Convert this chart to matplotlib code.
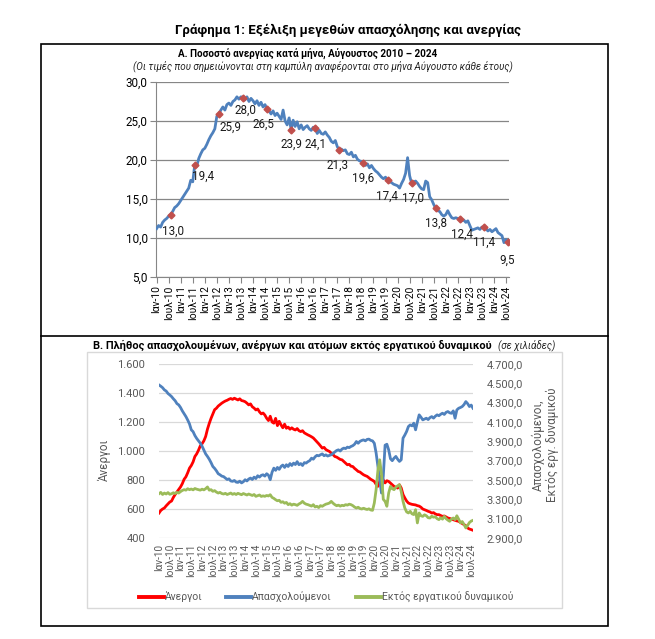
import numpy as np
import matplotlib
matplotlib.use("Agg")
import matplotlib.pyplot as plt
from matplotlib.patches import Rectangle
from matplotlib.lines import Line2D

plt.rcParams['font.family'] = ['Roboto', 'DejaVu Sans']

# Γράφημα Α: ποσοστό ανεργίας ανά μήνα (Ιαν 2010 - Αυγ 2024)
rate_2010 = [11.2, 11.6, 11.4, 12.0, 12.3, 12.5, 12.8, 13.0, 13.4, 13.9, 14.1, 14.4]
rate_2011 = [14.8, 15.2, 15.6, 16.0, 16.4, 17.4, 17.2, 19.4, 19.2, 20.2, 20.8, 21.3]
rate_2012 = [21.5, 22.0, 22.6, 23.1, 23.5, 24.0, 25.6, 25.9, 26.4, 26.8, 26.4, 27.1]
rate_2013 = [27.3, 27.0, 27.5, 27.7, 28.1, 27.8, 28.1, 28.0, 27.7, 28.1, 27.5, 27.9]
rate_2014 = [27.6, 27.2, 27.6, 27.0, 27.4, 26.8, 27.1, 26.5, 26.3, 25.9, 26.3, 25.7]
rate_2015 = [26.0, 25.6, 25.2, 26.4, 25.0, 24.5, 25.4, 23.9, 25.1, 24.3, 24.9, 24.0]
rate_2016 = [24.5, 23.9, 24.2, 24.4, 24.0, 23.8, 24.2, 24.1, 23.4, 23.8, 23.4, 23.3]
rate_2017 = [23.6, 23.2, 22.9, 22.4, 22.2, 22.5, 21.7, 21.3, 21.4, 21.2, 21.3, 20.8]
rate_2018 = [20.7, 21.0, 20.4, 20.6, 20.1, 19.9, 19.8, 19.6, 19.3, 19.5, 19.0, 19.3]
rate_2019 = [18.9, 18.6, 18.4, 18.1, 17.8, 17.6, 17.8, 17.4, 17.2, 17.1, 16.9, 16.8]
rate_2020 = [16.7, 16.4, 17.0, 17.5, 18.3, 20.3, 18.0, 17.0, 17.2, 17.3, 17.0, 16.6]
rate_2021 = [16.3, 16.2, 17.3, 17.1, 15.3, 14.9, 14.3, 13.8, 13.5, 13.4, 13.0, 12.8]
rate_2022 = [13.0, 13.5, 13.0, 12.6, 12.5, 12.6, 12.5, 12.4, 12.2, 12.3, 12.0, 12.2]
rate_2023 = [11.6, 11.0, 11.1, 11.2, 11.3, 11.1, 11.4, 11.4, 11.2, 10.9, 11.1, 10.8]
rate_2024 = [11.0, 11.2, 10.7, 10.5, 10.3, 9.4, 9.8, 9.5]

# Γράφημα Β: χιλιάδες άτομα
unemp_2010 = [572, 590, 600, 607, 622, 635, 648, 655, 680, 700, 718, 735]
unemp_2011 = [752, 775, 805, 822, 850, 882, 900, 925, 962, 980, 1005, 1035]
unemp_2012 = [1050, 1070, 1100, 1150, 1190, 1225, 1255, 1285, 1295, 1310, 1320, 1330]
unemp_2013 = [1338, 1345, 1350, 1357, 1362, 1356, 1364, 1358, 1352, 1360, 1348, 1345]
unemp_2014 = [1340, 1330, 1318, 1325, 1305, 1296, 1283, 1290, 1270, 1256, 1262, 1248]
unemp_2015 = [1226, 1210, 1240, 1200, 1192, 1225, 1175, 1205, 1180, 1160, 1185, 1157]
unemp_2016 = [1165, 1150, 1160, 1150, 1145, 1155, 1140, 1134, 1140, 1125, 1118, 1111]
unemp_2017 = [1105, 1098, 1090, 1077, 1065, 1050, 1035, 1020, 1025, 1010, 1003, 997]
unemp_2018 = [985, 975, 962, 958, 950, 942, 939, 928, 918, 905, 908, 895]
unemp_2019 = [893, 880, 870, 859, 855, 845, 836, 830, 825, 815, 805, 798]
unemp_2020 = [790, 770, 756, 790, 830, 800, 780, 795, 790, 779, 768, 756]
unemp_2021 = [750, 744, 767, 745, 700, 676, 655, 641, 636, 632, 630, 628]
unemp_2022 = [623, 620, 612, 600, 595, 590, 584, 580, 572, 575, 566, 561]
unemp_2023 = [561, 555, 549, 552, 545, 538, 535, 530, 526, 522, 518, 515]
unemp_2024 = [508, 500, 492, 485, 469, 462, 458, 453]

emp_2010 = [4483, 4470, 4455, 4432, 4420, 4395, 4380, 4363, 4340, 4320, 4290, 4277]
emp_2011 = [4250, 4215, 4185, 4156, 4120, 4080, 4019, 4000, 3960, 3930, 3905, 3881]
emp_2012 = [3850, 3810, 3770, 3744, 3715, 3680, 3640, 3620, 3595, 3565, 3554, 3540]
emp_2013 = [3535, 3520, 3505, 3512, 3490, 3486, 3495, 3478, 3475, 3488, 3470, 3482]
emp_2014 = [3503, 3490, 3510, 3520, 3505, 3530, 3515, 3544, 3530, 3548, 3554, 3540]
emp_2015 = [3565, 3550, 3503, 3580, 3623, 3600, 3630, 3610, 3640, 3655, 3630, 3658]
emp_2016 = [3640, 3670, 3650, 3675, 3660, 3690, 3658, 3670, 3650, 3680, 3675, 3690]
emp_2017 = [3700, 3726, 3715, 3740, 3755, 3750, 3761, 3770, 3751, 3760, 3748, 3755]
emp_2018 = [3761, 3775, 3790, 3805, 3812, 3800, 3820, 3830, 3825, 3840, 3835, 3847]
emp_2019 = [3855, 3870, 3898, 3880, 3900, 3909, 3915, 3905, 3920, 3923, 3910, 3905]
emp_2020 = [3880, 3780, 3640, 3500, 3365, 3540, 3860, 3870, 3812, 3720, 3700, 3726]
emp_2021 = [3744, 3715, 3692, 3709, 3933, 3965, 4002, 4053, 4070, 4060, 4088, 4019]
emp_2022 = [4100, 4174, 4150, 4122, 4130, 4139, 4125, 4145, 4156, 4140, 4160, 4174]
emp_2023 = [4165, 4180, 4191, 4178, 4200, 4208, 4195, 4190, 4215, 4139, 4225, 4242]
emp_2024 = [4250, 4260, 4280, 4311, 4290, 4260, 4275, 4242]

inact_2010 = [3358, 3372, 3350, 3365, 3355, 3370, 3352, 3358, 3368, 3360, 3372, 3365]
inact_2011 = [3380, 3392, 3400, 3395, 3410, 3400, 3407, 3398, 3412, 3405, 3400, 3395]
inact_2012 = [3405, 3398, 3410, 3428, 3395, 3400, 3383, 3390, 3375, 3365, 3372, 3360]
inact_2013 = [3355, 3362, 3350, 3358, 3365, 3352, 3360, 3350, 3362, 3355, 3348, 3360]
inact_2014 = [3352, 3345, 3355, 3348, 3340, 3350, 3331, 3338, 3345, 3330, 3336, 3331]
inact_2015 = [3340, 3335, 3348, 3320, 3310, 3296, 3285, 3290, 3269, 3275, 3260, 3268]
inact_2016 = [3245, 3255, 3240, 3250, 3245, 3238, 3252, 3262, 3279, 3260, 3250, 3245]
inact_2017 = [3238, 3230, 3245, 3221, 3228, 3215, 3235, 3228, 3240, 3250, 3255, 3262]
inact_2018 = [3279, 3260, 3245, 3234, 3240, 3230, 3238, 3234, 3245, 3240, 3250, 3245]
inact_2019 = [3235, 3220, 3210, 3218, 3205, 3200, 3208, 3200, 3195, 3202, 3190, 3186]
inact_2020 = [3262, 3400, 3600, 3709, 3560, 3300, 3279, 3228, 3365, 3434, 3410, 3400]
inact_2021 = [3425, 3440, 3451, 3380, 3280, 3210, 3170, 3159, 3176, 3150, 3142, 3193]
inact_2022 = [3056, 3159, 3130, 3124, 3140, 3130, 3110, 3107, 3125, 3115, 3120, 3100]
inact_2023 = [3090, 3110, 3095, 3124, 3100, 3085, 3073, 3095, 3107, 3090, 3130, 3095]
inact_2024 = [3056, 3070, 3040, 3004, 3030, 3060, 3075, 3083]

rate = np.array(rate_2010 + rate_2011 + rate_2012 + rate_2013 + rate_2014 + rate_2015 + rate_2016 +
                rate_2017 + rate_2018 + rate_2019 + rate_2020 + rate_2021 + rate_2022 + rate_2023 + rate_2024)
unemp = np.array(unemp_2010 + unemp_2011 + unemp_2012 + unemp_2013 + unemp_2014 + unemp_2015 + unemp_2016 +
                 unemp_2017 + unemp_2018 + unemp_2019 + unemp_2020 + unemp_2021 + unemp_2022 + unemp_2023 + unemp_2024)
emp = np.array(emp_2010 + emp_2011 + emp_2012 + emp_2013 + emp_2014 + emp_2015 + emp_2016 +
               emp_2017 + emp_2018 + emp_2019 + emp_2020 + emp_2021 + emp_2022 + emp_2023 + emp_2024)
inact = np.array(inact_2010 + inact_2011 + inact_2012 + inact_2013 + inact_2014 + inact_2015 + inact_2016 +
                 inact_2017 + inact_2018 + inact_2019 + inact_2020 + inact_2021 + inact_2022 + inact_2023 + inact_2024)
months = np.arange(len(rate))

# ετικέτες άξονα x: Ιαν / Ιουλ κάθε έτους
tick_pos = list(range(0, len(rate), 6))
tick_labels = [("Ιαν" if p % 12 == 0 else "Ιουλ") + "-" + str(10 + p // 12) for p in tick_pos]

# μήνες Αυγούστου (σημειωμένοι στην καμπύλη)
aug_idx = [7 + 12 * k for k in range(15)]
# μετατόπιση ετικετών σε pixel (dx, dy)
label_off = [(2, -17), (8, -12), (12, -13), (2, -13), (-4, -15), (0, -15), (0, -16), (-2, -15),
             (0, -15), (-1, -16), (1, -15), (0, -15), (2, -15), (0, -15), (-1, -18)]

W, H = 655, 639
fig = plt.figure(figsize=(W / 100, H / 100), dpi=100)


def fx(px):
    return px / W


def fy(py):
    return 1 - py / H


def comma1(v):
    return f"{v:.1f}".replace('.', ',')


def greek_thousands(v, dec=0):
    s = f"{v:,.{dec}f}"
    return s.replace(',', 'X').replace('.', ',').replace('X', '.')


# πλαίσια
fig.add_artist(Rectangle((fx(41), fy(626)), (608 - 41) / W, (626 - 44) / H, fill=False,
                         ec='black', lw=1.2, transform=fig.transFigure))
fig.add_artist(Line2D([fx(41), fx(608)], [fy(336), fy(336)], color='black', lw=1.2,
                      transform=fig.transFigure))
fig.add_artist(Rectangle((fx(87), fy(608)), (562 - 87) / W, (608 - 352) / H, fill=False,
                         ec='#D9D9D9', lw=1, transform=fig.transFigure))

fig.text(fx(348), fy(30), "Γράφημα 1: Εξέλιξη μεγεθών απασχόλησης και ανεργίας",
         ha='center', va='center', fontsize=9.5, fontweight='bold')
fig.text(fx(308), fy(53), "Α. Ποσοστό ανεργίας κατά μήνα, Αύγουστος 2010 – 2024",
         ha='center', va='center', fontsize=7.1, fontweight='bold')
fig.text(fx(323), fy(66), "(Οι τιμές που σημειώνονται στη καμπύλη αναφέρονται στο μήνα Αύγουστο κάθε έτους)",
         ha='center', va='center', fontsize=7.1, style='italic', color='#262626')

# ---- Γράφημα Α ----
ax1 = fig.add_axes([fx(156), fy(277), (509 - 156) / W, (277 - 82) / H])
ax1.plot(months, rate, color='#4F81BD', lw=2, zorder=3)
ax1.plot(aug_idx, rate[aug_idx], 'D', color='#C0504D', ms=3.5, zorder=4)
for (dx, dy), i in zip(label_off, aug_idx):
    ax1.annotate(comma1(rate[i]), (i, rate[i]), xytext=(dx * 0.72, dy * 0.72),
                 textcoords='offset points', ha='center', va='center', fontsize=8.4, color='#1a1a1a')
ax1.set_xlim(-0.3, 175.5)
ax1.set_ylim(5, 30)
ax1.set_yticks(np.arange(5, 31, 5))
ax1.set_yticklabels([comma1(v) for v in np.arange(5, 31, 5)], fontsize=8.4)
ax1.set_xticks(tick_pos)
ax1.set_xticklabels(tick_labels, rotation=90, fontsize=7.4)
ax1.grid(axis='y', color='#868686', lw=0.9)
ax1.set_axisbelow(True)
for s in ['top', 'right']:
    ax1.spines[s].set_visible(False)
for s in ['left', 'bottom']:
    ax1.spines[s].set_color('#868686')
ax1.tick_params(axis='both', color='#868686', length=4, pad=2)

# ---- Γράφημα Β ----
t1 = fig.text(fx(93), fy(345), "Β. Πλήθος απασχολουμένων, ανέργων και ατόμων εκτός εργατικού δυναμικού",
              ha='left', va='center', fontsize=7.9, fontweight='bold')
fig.canvas.draw()
bb = t1.get_window_extent()
fig.text(bb.x1 / W + fx(6), fy(345), "(σε χιλιάδες)", ha='left', va='center', fontsize=7.1,
         style='italic', color='#262626')

ax2 = fig.add_axes([fx(159), fy(538), (473 - 159) / W, (538 - 364) / H])
ax3 = ax2.twinx()
l1, = ax2.plot(months, unemp, color='#FF0000', lw=2)
l2, = ax3.plot(months, emp, color='#4F81BD', lw=2)
l3, = ax3.plot(months, inact, color='#9BBB59', lw=2)
ax2.set_xlim(0, 175)
ax2.set_ylim(400, 1600)
ax3.set_ylim(2900, 4700)
ax2.set_yticks(np.arange(400, 1601, 200))
ax2.set_yticklabels([greek_thousands(v) for v in np.arange(400, 1601, 200)], fontsize=8, color='#595959')
ax3.set_yticks(np.arange(2900, 4701, 200))
ax3.set_yticklabels([greek_thousands(v, 1) for v in np.arange(2900, 4701, 200)], fontsize=8, color='#595959')
ax2.set_xticks(tick_pos)
ax2.set_xticklabels(tick_labels, rotation=90, fontsize=7.2, color='#595959')
ax2.grid(axis='y', color='#D9D9D9', lw=0.9)
ax2.set_axisbelow(True)
for a in (ax2, ax3):
    for s in a.spines.values():
        s.set_visible(False)
    a.tick_params(length=0)
ax2.tick_params(axis='y', pad=10)
ax3.tick_params(axis='y', pad=10)
ax2.tick_params(axis='x', pad=4)

fig.text(fx(104), fy(460), "Άνεργοι", rotation=90, ha='center', va='center', fontsize=8.4, color='#595959')
fig.text(fx(545), fy(445), "Απασχολούμενοι,\nΕκτός εργ. δυναμικού", rotation=90, ha='center',
         va='center', fontsize=8.4, color='#595959', linespacing=1.1)

fig.legend([l1, l2, l3], ["Άνεργοι", "Απασχολούμενοι", "Εκτός εργατικού δυναμικού"],
           loc='center', bbox_to_anchor=(fx(326), fy(597)), ncol=3, frameon=False,
           fontsize=7.5, handlelength=2.4, handletextpad=0.1, columnspacing=2.3, labelcolor='#595959')
for h in fig.legends[0].legend_handles:
    h.set_linewidth(2.8)

fig.savefig("out.png", dpi=100)
